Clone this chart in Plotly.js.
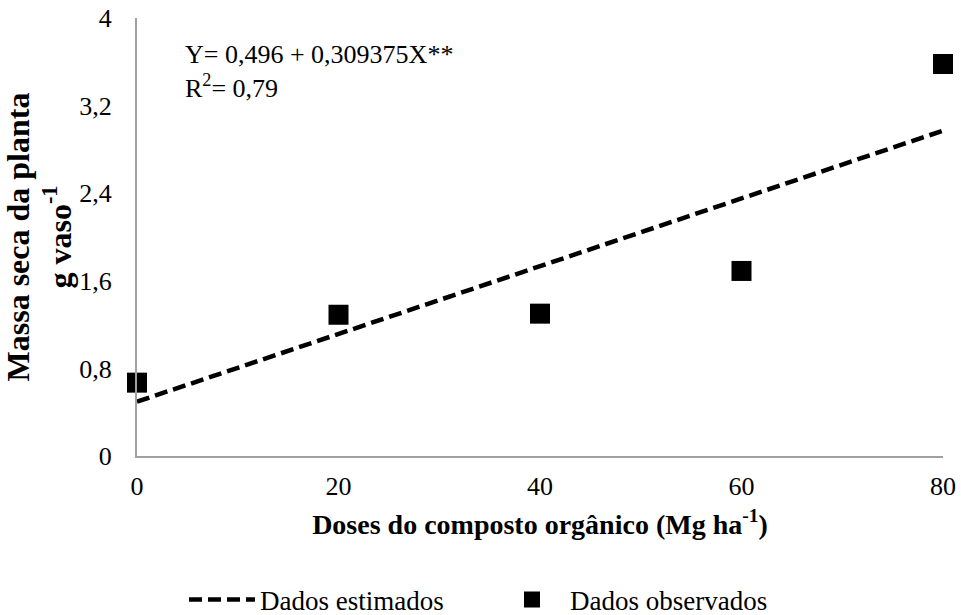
<!DOCTYPE html>
<html>
<head>
<meta charset="utf-8">
<script src="https://cdn.plot.ly/plotly-3.0.1.min.js"></script>
<style>html,body{margin:0;padding:0;background:#fff;}#chart{width:961px;height:615px;}</style>
</head>
<body>
<div id="chart"></div>
<script>
// Doses (Mg ha-1)
var doses = [0, 20, 40, 60, 80];
// Observed dry mass (g vaso-1)
var observados = [0.67, 1.29, 1.30, 1.69, 3.58];
// Estimated (regression line) values
var estimados = [0.496, 1.115, 1.733, 2.352, 2.971];
var xTicks = [0, 20, 40, 60, 80];
var yTicks = [0, 0.8, 1.6, 2.4, 3.2, 4];
var yTickText = ['0', '0,8', '1,6', '2,4', '3,2', '4'];

var font = '"Liberation Serif", "Times New Roman", serif';

var traces = [
  {
    x: doses, y: estimados, type: 'scatter', mode: 'lines',
    name: 'Dados estimados',
    line: {color: '#000', width: 4.5, dash: '13px,6px'},
    cliponaxis: false, hoverinfo: 'skip'
  },
  {
    x: doses, y: observados, type: 'scatter', mode: 'markers',
    name: 'Dados observados',
    marker: {symbol: 'square', size: 20, color: '#000', line: {width: 0}},
    cliponaxis: false
  }
];

var layout = {
  width: 961, height: 615,
  margin: {l: 137, r: 18, t: 18, b: 159},
  paper_bgcolor: '#fff', plot_bgcolor: '#fff',
  font: {family: font, size: 26, color: '#000'},
  showlegend: true,
  legend: {
    orientation: 'h', x: 184 / 961, xanchor: 'left', xref: 'container',
    y: 1 - 600 / 615, yref: 'container',
    yanchor: 'middle',
    font: {family: font, size: 27, color: '#000'},
    itemwidth: 66, entrywidth: 229, traceorder: 'normal'
  },
  xaxis: {
    range: [0, 80], tickvals: xTicks, ticktext: xTicks.map(String),
    showgrid: false, zeroline: false,
    showline: true, linecolor: '#a0a0a0', linewidth: 2,
    ticks: 'outside', ticklen: 6, tickcolor: 'rgba(0,0,0,0)',
    tickfont: {family: font, size: 26},
    title: {text: '<b>Doses do composto orgânico (Mg ha<sup>-1</sup>)</b>', font: {family: font, size: 28}, standoff: 14},
    automargin: false
  },
  yaxis: {
    range: [0, 4], tickvals: yTicks, ticktext: yTickText,
    showgrid: false, zeroline: false,
    showline: true, linecolor: '#a0a0a0', linewidth: 2,
    ticks: 'outside', ticklen: 18, tickcolor: 'rgba(0,0,0,0)',
    tickfont: {family: font, size: 26},
    title: {text: '<b>Massa seca da planta<br>g vaso<sup>-1</sup></b>', font: {family: font, size: 32}, standoff: 4},
    automargin: false
  },
  annotations: [
    {x: 4.6, y: 3.817, xref: 'x', yref: 'y', xanchor: 'left', yanchor: 'top', align: 'left', showarrow: false,
     text: 'Y= 0,496 + 0,309375X**<br>R<sup>2</sup>= 0,79', font: {family: font, size: 26}}
  ]
};

Plotly.newPlot('chart', traces, layout, {displayModeBar: false, staticPlot: true});
</script>
</body>
</html>
